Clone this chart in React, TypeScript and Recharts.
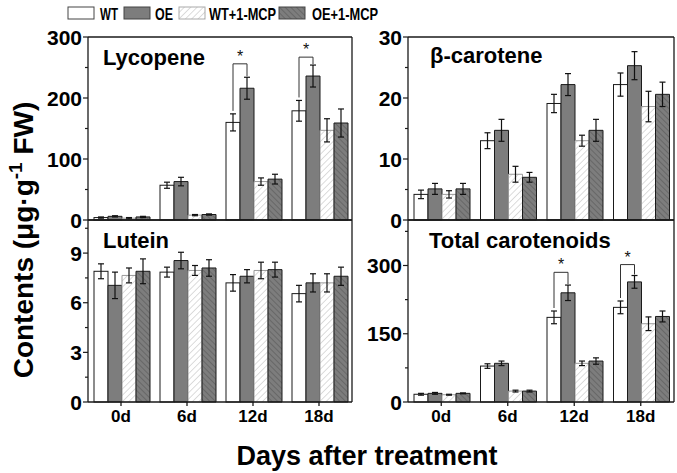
import React from "react";
import { BarChart, Bar, XAxis, YAxis, ErrorBar } from "recharts";

const days = ["0d", "6d", "12d", "18d"];

// Lycopene
const lycWT = [4, 57, 160, 179];
const lycWTErr = [1, 5, 14, 17];
const lycOE = [6, 63, 216, 236];
const lycOEErr = [1, 7, 18, 18];
const lycWTM = [3, 8, 63, 147];
const lycWTMErr = [1, 1, 6, 19];
const lycOEM = [5, 9, 67, 159];
const lycOEMErr = [1, 1, 8, 23];
const lycSig = [0, 0, 256, 267];

// beta-carotene
const bcWT = [4.2, 13.0, 19.1, 22.2];
const bcWTErr = [0.7, 1.3, 1.5, 1.9];
const bcOE = [5.1, 14.7, 22.2, 25.3];
const bcOEErr = [0.9, 1.8, 1.8, 2.3];
const bcWTM = [4.2, 7.5, 13.0, 18.6];
const bcWTMErr = [0.6, 1.3, 0.9, 2.5];
const bcOEM = [5.1, 7.0, 14.7, 20.6];
const bcOEMErr = [0.9, 0.8, 1.8, 2.0];

// Lutein
const luWT = [7.9, 7.85, 7.2, 6.55];
const luWTErr = [0.45, 0.3, 0.5, 0.5];
const luOE = [7.05, 8.55, 7.6, 7.2];
const luOEErr = [0.8, 0.5, 0.4, 0.55];
const luWTM = [7.65, 7.95, 7.95, 7.2];
const luWTMErr = [0.45, 0.3, 0.5, 0.55];
const luOEM = [7.9, 8.1, 8.0, 7.6];
const luOEMErr = [0.75, 0.5, 0.45, 0.55];

// Total carotenoids
const tcWT = [17, 79, 186, 208];
const tcWTErr = [2, 5, 14, 14];
const tcOE = [19, 85, 240, 264];
const tcOEErr = [2, 5, 17, 14];
const tcWTM = [16, 24, 85, 172];
const tcWTMErr = [1, 2, 5, 15];
const tcOEM = [19, 24, 90, 188];
const tcOEMErr = [1, 2, 7, 12];
const tcSig = [0, 0, 285, 302];

const FONT = "Arial, 'Liberation Sans', Helvetica, sans-serif";
const INK = "#1a1a1a";
const GRAY = "#7d7d7d";

function buildRows(
  wt: number[], wtE: number[], oe: number[], oeE: number[],
  wtm: number[], wtmE: number[], oem: number[], oemE: number[],
  sig?: number[]
) {
  return days.map((day, i) => ({
    day,
    wt: wt[i], wtE: wtE[i],
    oe: oe[i], oeE: oeE[i],
    wtm: wtm[i], wtmE: wtmE[i],
    oem: oem[i], oemE: oemE[i],
    sig: sig ? sig[i] : 0,
  }));
}

const lycData = buildRows(lycWT, lycWTErr, lycOE, lycOEErr, lycWTM, lycWTMErr, lycOEM, lycOEMErr, lycSig);
const bcData = buildRows(bcWT, bcWTErr, bcOE, bcOEErr, bcWTM, bcWTMErr, bcOEM, bcOEMErr);
const luData = buildRows(luWT, luWTErr, luOE, luOEErr, luWTM, luWTMErr, luOEM, luOEMErr);
const tcData = buildRows(tcWT, tcWTErr, tcOE, tcOEErr, tcWTM, tcWTMErr, tcOEM, tcOEMErr, tcSig);

function makeYTick(majors: number[]) {
  return (props: any) => {
    const { x, y, payload } = props;
    const major = majors.includes(payload.value);
    return (
      <g>
        <line x1={x - (major ? 5 : 3)} x2={x} y1={y} y2={y} stroke={INK} strokeWidth={1.2} />
        {major && (
          <text x={x - 6} y={y} dy="0.36em" textAnchor="end" fontSize={21}
            fontWeight="bold" fontFamily={FONT} fill="#000">
            {payload.value}
          </text>
        )}
      </g>
    );
  };
}

// WT bar, plus the significance bracket between WT and OE where sig > 0
function wtShape(props: any) {
  const { x, y, width, height, payload, fill, stroke } = props;
  const p = payload || {};
  let bracket = null;
  if (p.sig > 0 && p.wt > 0) {
    const ppu = height / p.wt;
    const zeroY = y + height;
    const topY = zeroY - p.sig * ppu;
    const lx = x + width / 2;
    const rx = x + width * 1.5;
    const lb = zeroY - (p.wt + p.wtE) * ppu - 3;
    const rb = zeroY - (p.oe + p.oeE) * ppu - 1;
    bracket = (
      <g>
        <polyline points={`${lx},${lb} ${lx},${topY} ${rx},${topY} ${rx},${rb}`}
          fill="none" stroke="#333" strokeWidth={1} />
        <text x={x + width} y={topY - 2} textAnchor="middle" fontSize={16}
          fontFamily={FONT} fill="#111">*</text>
      </g>
    );
  }
  return (
    <g>
      <rect x={x} y={y} width={width} height={height} fill={fill} stroke={stroke} strokeWidth={1} />
      {bracket}
    </g>
  );
}

type PanelProps = {
  left: number;
  top: number;
  plotW: number;
  plotH: number;
  data: any[];
  max: number;
  majors: number[];
  minors: number[];
  bottom: boolean;
};

function Panel({ left, top, plotW, plotH, data, max, majors, minors, bottom }: PanelProps) {
  const yw = 60;
  const mt = 10;
  const xh = bottom ? 34 : 14;
  const ticks = [...majors, ...minors].sort((a, b) => a - b);
  return (
    <div style={{ position: "absolute", left: left - yw, top: top - mt - 1 }}>
      <BarChart
        width={yw + plotW + 3}
        height={mt + 1 + plotH + xh}
        data={data}
        margin={{ top: mt, right: 2, left: 0, bottom: 0 }}
        barGap={0}
        barCategoryGap={6}
      >
        <XAxis
          dataKey="day"
          height={xh}
          stroke={INK}
          strokeWidth={1.3}
          tick={bottom ? { fontSize: 17, fontWeight: "bold", fill: "#000", fontFamily: FONT } : false}
          tickLine={bottom}
          tickSize={4}
          tickMargin={4}
        />
        <XAxis xAxisId="top" orientation="top" dataKey="day" height={1}
          stroke={INK} strokeWidth={1.3} tick={false} tickLine={false} />
        <YAxis
          type="number"
          domain={[0, max]}
          ticks={ticks}
          interval={0}
          width={yw}
          stroke={INK}
          strokeWidth={1.3}
          tickSize={0}
          tickMargin={0}
          tickLine={false}
          tick={makeYTick(majors)}
        />
        <YAxis yAxisId="r" orientation="right" type="number" domain={[0, max]} width={1}
          stroke={INK} strokeWidth={1.3} tick={false} tickLine={false} />
        <Bar dataKey="wt" fill="#ffffff" stroke={INK} shape={wtShape} isAnimationActive={false}>
          <ErrorBar dataKey="wtE" width={3} stroke="#111" strokeWidth={1.2} />
        </Bar>
        <Bar dataKey="oe" fill={GRAY} stroke={INK} isAnimationActive={false}>
          <ErrorBar dataKey="oeE" width={3} stroke="#111" strokeWidth={1.2} />
        </Bar>
        <Bar dataKey="wtm" fill="url(#hatchWT)" stroke="#9a9a9a" isAnimationActive={false}>
          <ErrorBar dataKey="wtmE" width={3} stroke="#111" strokeWidth={1.2} />
        </Bar>
        <Bar dataKey="oem" fill="url(#hatchOE)" stroke={INK} isAnimationActive={false}>
          <ErrorBar dataKey="oemE" width={3} stroke="#111" strokeWidth={1.2} />
        </Bar>
      </BarChart>
    </div>
  );
}

const legendItems = [
  { name: "WT", fill: "#ffffff", stroke: "#444", box: 68, tx: 100, tl: 18 },
  { name: "OE", fill: GRAY, stroke: "#444", box: 124, tx: 155, tl: 18 },
  { name: "WT+1-MCP", fill: "url(#hatchWT)", stroke: "#aaa", box: 179, tx: 209, tl: 67 },
  { name: "OE+1-MCP", fill: "url(#hatchOE)", stroke: "#444", box: 279, tx: 312, tl: 66 },
];

export default function App() {
  return (
    <div style={{ position: "absolute", left: 0, top: 0, width: 677, height: 473, background: "#fff", fontFamily: FONT }}>
      <Panel left={88} top={37} plotW={264} plotH={183} data={lycData} max={300}
        majors={[0, 100, 200, 300]} minors={[50, 150, 250]} bottom={false} />
      <Panel left={88} top={220} plotW={264} plotH={182} data={luData} max={11}
        majors={[0, 3, 6, 9]} minors={[1.5, 4.5, 7.5, 10.5]} bottom={true} />
      <Panel left={408} top={37} plotW={266} plotH={183} data={bcData} max={30}
        majors={[0, 10, 20, 30]} minors={[5, 15, 25]} bottom={false} />
      <Panel left={408} top={220} plotW={266} plotH={182} data={tcData} max={400}
        majors={[0, 150, 300]} minors={[75, 225, 375]} bottom={true} />
      <svg width={677} height={473} style={{ position: "absolute", left: 0, top: 0, pointerEvents: "none" }}>
        <defs>
          <pattern id="hatchWT" patternUnits="userSpaceOnUse" width={4.5} height={4.5} patternTransform="rotate(45)">
            <rect width={4.5} height={4.5} fill="#ffffff" />
            <line x1={0} y1={0} x2={0} y2={4.5} stroke="#c4c4c4" strokeWidth={1.2} />
          </pattern>
          <pattern id="hatchOE" patternUnits="userSpaceOnUse" width={4} height={4} patternTransform="rotate(-45)">
            <rect width={4} height={4} fill={GRAY} />
            <line x1={0} y1={0} x2={0} y2={4} stroke="#505050" strokeWidth={1} />
          </pattern>
        </defs>
        {legendItems.map((it) => (
          <g key={it.name}>
            <rect x={it.box} y={7} width={26} height={12} fill={it.fill} stroke={it.stroke} strokeWidth={1} />
            <text x={it.tx} y={19.5} fontSize={17} fontWeight="bold" fontFamily={FONT} fill="#000"
              textLength={it.tl} lengthAdjust="spacingAndGlyphs">
              {it.name}
            </text>
          </g>
        ))}
        <text x={103} y={65} fontSize={22} fontWeight="bold" fontFamily={FONT} fill="#000">Lycopene</text>
        <text x={430} y={63} fontSize={22} fontWeight="bold" fontFamily={FONT} fill="#000">β-carotene</text>
        <text x={103} y={248} fontSize={22} fontWeight="bold" fontFamily={FONT} fill="#000">Lutein</text>
        <text x={429} y={248} fontSize={22} fontWeight="bold" fontFamily={FONT} fill="#000">Total carotenoids</text>
        <text transform="translate(33,240) rotate(-90)" textAnchor="middle" fontSize={28}
          fontWeight="bold" fontFamily={FONT} fill="#000">
          Contents (μg·g<tspan fontSize={19} dy={-11}>-1</tspan><tspan dy={11}> FW)</tspan>
        </text>
        <text x={367} y={465} textAnchor="middle" fontSize={27} fontWeight="bold" fontFamily={FONT} fill="#000">
          Days after treatment
        </text>
      </svg>
    </div>
  );
}
